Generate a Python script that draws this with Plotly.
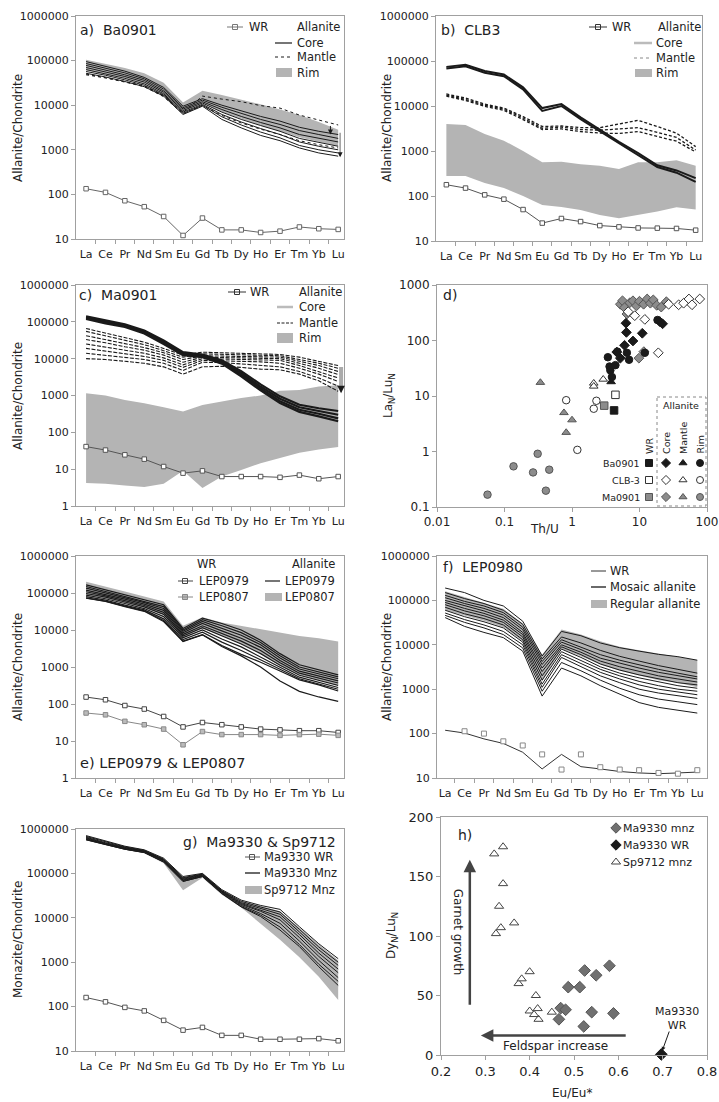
import math
import plotly.graph_objects as go

W, H = 719, 1102
FONT = "DejaVu Sans"
INK = "#1a1a1a"
FRAME = "#a0a0a0"
BAND = "#b4b4b4"

REE = ["La", "Ce", "Pr", "Nd", "Sm", "Eu", "Gd", "Tb", "Dy", "Ho", "Er", "Tm", "Yb", "Lu"]
IDX = list(range(len(REE)))

# ---------------- a) Ba0901 ----------------
a_wr = [134, 111, 72, 53, 32, 12, 29.5, 16, 16, 14, 15, 18.6, 17, 16.4]
a_core = [
    [95000, 75000, 58000, 42000, 25000, 9500, 14000, 10000, 7500, 5600, 4400, 3200, 2600, 2200],
    [86000, 68000, 53000, 39000, 23000, 8800, 13000, 9000, 6500, 4800, 3700, 2700, 2200, 1800],
    [78000, 62000, 48000, 36000, 21000, 8200, 12000, 8000, 5600, 4100, 3100, 2200, 1800, 1500],
    [70000, 56000, 44000, 33000, 19500, 7600, 11200, 7000, 4800, 3500, 2600, 1800, 1450, 1200],
    [63000, 51000, 40000, 30000, 18000, 7000, 10500, 6200, 4200, 3000, 2200, 1500, 1200, 1000],
    [57000, 47000, 37000, 28000, 17000, 6600, 10000, 5500, 3600, 2500, 1850, 1250, 1000, 850],
    [52000, 43000, 34000, 26000, 16000, 6200, 9500, 4800, 3100, 2100, 1600, 1100, 850, 720],
]
a_mantle = [
    [50000, 42000, 34000, 27000, 16500, 6800, 16000, 13700, 12000, 9800, 8600, 6000, 4700, 3600],
    [48000, 41000, 33000, 26000, 15500, 6400, 9800, 5900, 4000, 2900, 2200, 1600, 1300, 1100],
]
a_rim_hi = [105000, 85000, 68000, 52000, 32000, 11500, 21000, 17000, 13500, 10500, 8000, 6000, 4200, 2800]
a_rim_lo = [60000, 50000, 40000, 30000, 18000, 7000, 11000, 7000, 5000, 3500, 2600, 1900, 1500, 1200]

# ---------------- b) CLB3 ----------------
b_wr = [178, 150, 106, 85, 50, 25, 31.6, 27, 22, 20.6, 19.5, 19.3, 19, 17.4]
b_core = [
    [74000, 82000, 60000, 50000, 26000, 9000, 11000, 5600, 3000, 1600, 900, 480, 370, 250],
    [68000, 76000, 55000, 46000, 23500, 7800, 10000, 5100, 2750, 1480, 830, 440, 330, 205],
]
b_mantle = [
    [18500, 15000, 11000, 9000, 5800, 3500, 3600, 3300, 3300, 4000, 4800, 3500, 2500, 1250],
    [17500, 14000, 10400, 8500, 5400, 3200, 3400, 3000, 2900, 3100, 3300, 2600, 2000, 1050],
    [16500, 13300, 9800, 8000, 5000, 3000, 3100, 2700, 2500, 2450, 2700, 2100, 1650, 950],
]
b_rim_hi = [4000, 3800, 2400, 1700, 1000, 560, 580, 510, 470, 400, 560, 560, 620, 470]
b_rim_lo = [280, 280, 195, 150, 100, 63, 57, 49, 38, 32, 38, 45, 56, 50]

# ---------------- c) Ma0901 ----------------
c_wr = [41, 33, 24.5, 18.7, 11.8, 7.8, 9, 6.3, 6.3, 6.3, 6, 6.9, 5.5, 6.3]
c_core = [
    [140000, 108000, 86000, 58000, 31000, 15000, 13000, 9000, 4600, 2000, 950, 560, 450, 380],
    [132000, 102000, 81000, 55000, 29000, 14000, 12200, 8400, 4100, 1750, 820, 480, 380, 300],
    [126000, 96000, 77000, 51000, 27000, 13200, 11600, 7800, 3700, 1550, 700, 410, 320, 240],
    [120000, 91000, 73000, 48000, 25000, 12500, 11000, 7300, 3300, 1380, 620, 360, 270, 200],
]
c_mantle = [
    [66000, 50000, 38000, 28000, 19000, 12500, 15000, 14500, 14000, 13500, 13000, 11000, 8500, 6500],
    [55000, 42000, 32000, 24000, 16500, 11000, 13500, 13000, 12800, 12500, 12000, 9500, 7500, 5500],
    [42000, 33000, 26000, 20000, 14500, 9500, 12000, 11800, 11500, 11500, 11000, 8500, 6500, 4500],
    [33000, 27000, 21000, 17000, 12500, 8000, 11000, 10800, 10500, 10500, 10000, 7500, 5500, 3700],
    [25000, 21000, 17000, 14000, 10500, 6800, 10000, 9800, 9500, 9500, 9000, 6500, 4500, 3000],
    [19000, 16000, 13500, 11500, 9000, 5800, 9000, 8800, 8500, 8200, 7500, 5500, 3800, 2400],
    [14000, 12500, 11000, 9500, 7500, 4800, 8000, 7800, 7200, 6500, 6000, 4500, 3000, 1800],
    [10000, 9500, 8500, 7500, 6000, 3800, 6000, 6200, 5800, 5200, 5000, 3800, 2500, 1300],
]
c_rim_hi = [1150, 1000, 760, 620, 480, 370, 550, 700, 850, 1000, 1350, 1400, 1750, 1900]
c_rim_lo = [4.2, 4.0, 3.6, 3.3, 4.0, 9.0, 3.1, 6.3, 9.5, 14.5, 20, 28, 34, 40]

# ---------------- d) Th/U vs LaN/LuN ----------------
d_ba_wr_x, d_ba_wr_y = [4.2], [5.5]
d_clb_wr_x, d_clb_wr_y = [4.4], [10.5]
d_ma_wr_x, d_ma_wr_y = [3.0], [6.7]
d_ba_core_x = [6.3, 6.4, 8.0, 11.0, 20.0, 22.0, 6.0, 4.6, 5.2]
d_ba_core_y = [205, 140, 98, 135, 218, 200, 82, 62, 48]
d_ba_mantle_x, d_ba_mantle_y = [3.8], [18]
d_ba_rim_x = [3.4, 3.6, 3.7, 4.4, 4.7, 7.0, 6.5, 3.9, 12.0, 18.5]
d_ba_rim_y = [50, 34, 29, 36, 63, 45, 60, 22, 60, 234]
d_clb_core_x = [6.8, 8.5, 12.0, 27, 38, 45, 54, 60, 78, 19]
d_clb_core_y = [330, 280, 240, 450, 440, 470, 560, 440, 560, 60]
d_clb_mantle_x, d_clb_mantle_y = [2.1, 2.1, 2.9], [17, 15, 20]
d_clb_rim_x, d_clb_rim_y = [0.82, 1.2, 2.1, 2.3], [8.4, 1.07, 5.9, 8.2]
d_ma_core_x = [5.2, 5.6, 6.0, 6.5, 7.2, 8.0, 9.0, 10.0, 11.5, 13.0, 14.5, 16.0, 18.0, 21.0, 25.0, 9.8, 11.6]
d_ma_core_y = [450, 520, 390, 300, 480, 520, 420, 510, 450, 560, 470, 540, 430, 400, 500, 48, 63]
d_ma_mantle_x, d_ma_mantle_y = [0.34, 0.76, 1.0, 0.82], [17.5, 5.0, 3.7, 2.2]
d_ma_rim_x = [0.056, 0.136, 0.265, 0.31, 0.46, 0.41]
d_ma_rim_y = [0.167, 0.54, 0.42, 0.91, 0.47, 0.197]

# ---------------- e) LEP0979 & LEP0807 ----------------
e_wr_979 = [154, 130, 91, 73, 46, 24, 31.6, 27.6, 24, 21, 20, 19, 19, 17]
e_wr_807 = [57, 51, 34, 27.5, 21, 7.9, 18, 14.9, 14.9, 14.9, 14.2, 14.9, 15.3, 14.2]
e_aln_979 = [
    [165000, 120000, 89000, 65000, 48000, 11000, 21000, 15000, 10000, 5300, 2300, 1150, 840, 610],
    [150000, 110000, 82000, 60000, 43000, 10000, 19000, 13000, 8500, 4600, 2000, 1000, 740, 540],
    [135000, 100000, 75000, 55000, 38000, 9200, 17000, 11000, 7200, 4000, 1750, 880, 650, 480],
    [120000, 92000, 68000, 50000, 34000, 8400, 15000, 9500, 6000, 3400, 1500, 770, 570, 420],
    [108000, 84000, 62000, 46000, 30000, 7600, 13000, 8000, 5000, 2800, 1300, 680, 500, 370],
    [97000, 77000, 57000, 42000, 26500, 6900, 11500, 6800, 4200, 2300, 1120, 600, 440, 320],
    [88000, 70000, 52000, 38000, 23000, 6200, 10000, 5700, 3500, 1900, 980, 530, 390, 280],
    [80000, 64000, 47000, 35000, 20000, 5500, 8700, 4700, 2800, 1600, 870, 480, 350, 250],
    [74000, 60000, 44000, 33000, 18000, 5000, 7500, 3800, 2200, 1350, 780, 450, 330, 225],
    [72000, 59000, 43000, 32000, 17000, 4900, 7400, 3600, 2000, 1000, 420, 220, 155, 118],
]
e_807_hi = [200000, 150000, 110000, 80000, 59000, 13000, 22000, 16000, 13000, 10500, 8500, 6900, 6000, 4900]
e_807_lo = [90000, 72000, 54000, 40000, 26000, 6500, 11000, 7000, 4200, 2300, 1100, 600, 450, 330]

# ---------------- f) LEP0980 ----------------
f_wr = [119, 103, 76, 60, 38, 16, 34, 18, 16, 14, 13, 12.5, 13, 13.6]
f_wr_sq = [113, 100, 67, 54, 34, 15.5, 34, 17.5, 15.5, 15, 13, 12.5, 15, 13.6]
f_mosaic = [
    [190000, 150000, 100000, 75000, 34000, 5600, 20000, 16000, 11000, 8600, 7200, 6100, 5400, 4500],
    [150000, 110000, 85000, 60000, 29000, 4800, 15000, 11000, 7500, 5500, 4300, 3400, 2800, 2300],
    [130000, 95000, 75000, 53000, 25000, 4200, 13000, 9000, 6000, 4500, 3500, 2800, 2300, 1900],
    [115000, 85000, 66000, 47000, 22000, 3600, 11500, 7800, 5000, 3800, 3000, 2400, 2000, 1700],
    [100000, 75000, 58000, 41000, 19000, 3000, 10000, 6800, 4300, 3200, 2500, 2000, 1700, 1450],
    [90000, 66000, 51000, 36000, 17000, 2500, 9000, 6000, 3700, 2700, 2100, 1700, 1400, 1250],
    [80000, 58000, 45000, 32000, 15000, 2000, 8000, 5200, 3200, 2300, 1800, 1450, 1200, 1050],
    [70000, 50000, 39000, 28000, 13000, 1600, 7000, 4500, 2800, 2000, 1500, 1200, 1000, 900],
    [60000, 43000, 33000, 24000, 11500, 1300, 6000, 3800, 2400, 1700, 1250, 1000, 850, 750],
    [52000, 37000, 28000, 20000, 10000, 1100, 5200, 3200, 2000, 1400, 1000, 820, 700, 620],
    [46000, 32000, 24000, 17000, 8500, 900, 4000, 2600, 1600, 1050, 750, 600, 520, 450],
    [41000, 26000, 19000, 14500, 7200, 700, 3000, 2000, 1200, 770, 500, 390, 340, 290],
]
f_reg_hi = [160000, 120000, 90000, 65000, 30000, 6000, 22000, 17000, 12000, 9000, 7500, 6300, 5500, 4500]
f_reg_lo = [60000, 45000, 35000, 25000, 12000, 1500, 8000, 5500, 3600, 2600, 2000, 1600, 1400, 1100]

# ---------------- g) Ma9330 & Sp9712 ----------------
g_wr = [160, 128, 96, 80, 49, 29.5, 34, 22.5, 22.5, 18.4, 18.4, 18.4, 19, 17]
g_mnz = [
    [710000, 530000, 410000, 340000, 220000, 85000, 100000, 43000, 25000, 19000, 15500, 6300, 2600, 1200],
    [680000, 510000, 395000, 330000, 210000, 80000, 97000, 41000, 23500, 17500, 13500, 5500, 2200, 1000],
    [650000, 490000, 385000, 320000, 205000, 77000, 95000, 40000, 22000, 16000, 12000, 4800, 1900, 850],
    [630000, 475000, 375000, 315000, 200000, 74000, 92000, 39000, 21000, 15000, 10500, 4200, 1600, 700],
    [610000, 460000, 365000, 310000, 195000, 71000, 90000, 38000, 20000, 14000, 9000, 3600, 1350, 580],
    [590000, 450000, 355000, 300000, 190000, 69000, 88000, 37000, 19000, 12500, 7500, 3000, 1100, 450],
    [575000, 440000, 350000, 295000, 182000, 66000, 85000, 35500, 18000, 11500, 6200, 2500, 900, 370],
    [570000, 440000, 350000, 295000, 180000, 66000, 85000, 35000, 17500, 10700, 5300, 2250, 790, 300],
]
g_sp_hi = [700000, 520000, 410000, 340000, 215000, 82000, 98000, 42000, 24000, 18000, 14000, 6000, 2500, 1100]
g_sp_lo = [560000, 430000, 340000, 285000, 170000, 42000, 80000, 33000, 17000, 7500, 3200, 1300, 470, 140]

# ---------------- h) Eu/Eu* vs DyN/LuN ----------------
h_sp_x = [0.32, 0.34, 0.34, 0.331, 0.324, 0.335, 0.365, 0.40, 0.375, 0.382, 0.414, 0.40, 0.418, 0.42, 0.45, 0.41]
h_sp_y = [169, 175, 144, 125, 102, 107, 111, 70, 60, 64, 50, 37, 39, 30, 36, 34]
h_ma_x = [0.47, 0.481, 0.487, 0.466, 0.513, 0.524, 0.55, 0.58, 0.54, 0.589, 0.522]
h_ma_y = [39.4, 38, 57, 30, 57, 71, 67, 75, 36, 35, 24]
h_wr_x, h_wr_y = [0.697], [0.5]

# ====================================================================
PANELS = {1: (76, 344, 16, 239), 2: (436, 702, 16, 241), 3: (76, 344, 285, 506),
          4: (437, 707, 285, 507), 5: (76, 344, 556, 778), 6: (437, 707, 556, 778),
          7: (76, 344, 829, 1051), 8: (441, 707, 817, 1055)}

fig = go.Figure()
layout = dict(width=W, height=H, margin=dict(l=0, r=0, t=0, b=0, autoexpand=False), paper_bgcolor="white",
              plot_bgcolor="rgba(0,0,0,0)", showlegend=False,
              font=dict(family=FONT, color="#222"))
ann, shp = [], []


def axkey(n, a):
    return f"{a}axis" if n == 1 else f"{a}axis{n}"


def ref(n, a):
    return a if n == 1 else f"{a}{n}"


def base_axis(n, a, **kw):
    x0, x1, y0, y1 = PANELS[n]
    dom = [x0 / W, x1 / W] if a == "x" else [1 - y1 / H, 1 - y0 / H]
    d = dict(domain=dom, anchor=ref(n, "y" if a == "x" else "x"), showline=True, mirror=True,
             linecolor=FRAME, linewidth=1, showgrid=False, zeroline=False, ticks="outside",
             ticklen=4, tickcolor=FRAME, fixedrange=True, automargin=False, tickangle=0,
             tickfont=dict(size=11, color="#222", family=FONT))
    d.update(kw)
    layout[axkey(n, a)] = d


def ree_axes(n, xr, ymin):
    base_axis(n, "x", range=xr, tickmode="array", tickvals=IDX, ticktext=REE, ticklen=5,
              tickcolor="rgba(0,0,0,0)",
              minor=dict(tickmode="array", tickvals=[i + 0.5 for i in IDX[:-1]], ticks="outside",
                         ticklen=4, tickcolor=FRAME, showgrid=False))
    vals = [10 ** k for k in range(ymin, 7)]
    base_axis(n, "y", type="log", range=[ymin, 6], tickmode="array", tickvals=vals,
              ticktext=[str(v) for v in vals])


def lines(n, rows, color=INK, width=1, dash="solid"):
    for r in rows:
        fig.add_trace(go.Scatter(x=IDX, y=r, mode="lines", line=dict(color=color, width=width, dash=dash),
                                 xaxis=ref(n, "x"), yaxis=ref(n, "y"), hoverinfo="skip"))


def band(n, lo, hi, color=BAND):
    fig.add_trace(go.Scatter(x=IDX + IDX[::-1], y=hi + lo[::-1], mode="lines", fill="toself",
                             fillcolor=color, line=dict(width=0, color=color),
                             xaxis=ref(n, "x"), yaxis=ref(n, "y"), hoverinfo="skip"))


def wr(n, vals, color="#555", mfill="white", xs=None, mode="lines+markers", clip=True, size=4.5):
    fig.add_trace(go.Scatter(x=xs if xs is not None else IDX, y=vals, mode=mode,
                             line=dict(color=color, width=1),
                             marker=dict(symbol="square", size=size, color=mfill, line=dict(color=color, width=1)),
                             cliponaxis=clip, xaxis=ref(n, "x"), yaxis=ref(n, "y"), hoverinfo="skip"))


def pts(n, xs, ys, symbol, fill, edge, size=7.5, clip=True):
    fig.add_trace(go.Scatter(x=xs, y=ys, mode="markers", cliponaxis=clip,
                             marker=dict(symbol=symbol, size=size, color=fill, line=dict(color=edge, width=1)),
                             xaxis=ref(n, "x"), yaxis=ref(n, "y"), hoverinfo="skip"))


# overlay pixel-space axis for legends/labels
layout["xaxis9"] = dict(domain=[0, 1], range=[0, W], visible=False, anchor="y9", fixedrange=True)
layout["yaxis9"] = dict(domain=[0, 1], range=[H, 0], visible=False, anchor="x9", fixedrange=True)


def T(x, y, s, size=11.5, xa="left", ya="middle", ang=0, color="#222"):
    ann.append(dict(x=x, y=y, xref="x9", yref="y9", text=s, showarrow=False, xanchor=xa, yanchor=ya,
                    textangle=ang, font=dict(size=size, color=color, family=FONT)))


def SEG(x0, x1, y, color=INK, w=1, dash="solid"):
    shp.append(dict(type="line", xref="x9", yref="y9", x0=x0, x1=x1, y0=y, y1=y,
                    line=dict(color=color, width=w, dash=dash)))


def BOX(x0, y0, x1, y1, fill=BAND, line=None, dash="solid", layer="above"):
    shp.append(dict(type="rect", xref="x9", yref="y9", x0=x0, x1=x1, y0=y0, y1=y1, fillcolor=fill,
                    layer=layer, line=dict(width=1 if line else 0, color=line or fill, dash=dash)))


def MK(x, y, symbol, fill, edge, size=7.5):
    fig.add_trace(go.Scatter(x=[x], y=[y], mode="markers", xaxis="x9", yaxis="y9", hoverinfo="skip",
                             marker=dict(symbol=symbol, size=size, color=fill, line=dict(color=edge, width=1))))


def ARROW(n, x, y, ax, ay, color=INK, width=1, head=2, size=1):
    ann.append(dict(x=x, y=y, ax=ax, ay=ay, xref=ref(n, "x"), yref=ref(n, "y"), axref=ref(n, "x"),
                    ayref=ref(n, "y"), showarrow=True, arrowhead=head, arrowsize=size, arrowwidth=width,
                    arrowcolor=color, text=""))


def LG(v):
    return math.log10(v)


# ---------------- panel a ----------------
ree_axes(1, [-0.52, 13.3], 1)
band(1, a_rim_lo, a_rim_hi)
wr(1, a_wr, color="#666")
lines(1, a_core, width=1)
lines(1, a_mantle, width=1, dash="dot")
ARROW(1, 12.6, LG(2200), 12.6, LG(3700))
ARROW(1, 13.1, LG(820), 13.1, LG(2600), color="#999", width=1.5, head=0)
ARROW(1, 13.1, LG(680), 13.1, LG(900))
T(78, 30, "a)  Ba0901", 14)
SEG(227, 243, 27, "#777"); MK(235, 27, "square", "white", "#777", 5)
T(247, 27, "WR"); T(295, 27, "Allanite")
SEG(275, 292, 43, INK, 1.2); T(295, 43, "Core")
SEG(275, 292, 57, INK, 1, "dot"); T(295, 57, "Mantle")
BOX(276, 68, 292, 77); T(295, 73, "Rim")
T(18, 128, "Allanite/Chondrite", 12, "center", ang=-90)

# ---------------- panel b ----------------
ree_axes(2, [-0.54, 13.33], 1)
band(2, b_rim_lo, b_rim_hi)
wr(2, b_wr, color="#555")
lines(2, b_mantle, width=1.3, dash="3px,2px")
lines(2, b_core, width=2)
T(439, 30, "b)  CLB3", 14)
SEG(589, 607, 27, "#333"); MK(598, 27, "square", "white", "#333", 5)
T(610, 27, "WR"); T(656, 27, "Allanite")
SEG(634, 652, 43, "#bbb", 2.5); T(654, 43, "Core")
SEG(634, 652, 58, "#888", 1, "dot"); T(654, 58, "Mantle")
BOX(635, 69, 652, 77); T(654, 73, "Rim")
T(387, 128, "Allanite/Chondrite", 12, "center", ang=-90)

# ---------------- panel c ----------------
ree_axes(3, [-0.52, 13.3], 0)
band(3, c_rim_lo, c_rim_hi)
wr(3, c_wr, color="#555")
lines(3, c_mantle, width=1.1, dash="4px,1.5px")
lines(3, c_core, width=2.2)
ARROW(3, 13.15, LG(1600), 13.15, LG(6500), color="#aaa", width=4, head=0)
ARROW(3, 13.15, LG(1150), 13.15, LG(1700), width=1.5)
T(77, 295, "c)  Ma0901", 14)
SEG(228, 246, 292, "#333"); MK(237, 292, "square", "white", "#333", 5)
T(248, 292, "WR"); T(297, 292, "Allanite")
SEG(277, 293, 307, "#bbb", 2.5); T(297, 307, "Core")
SEG(277, 293, 323, INK, 1, "3px,1.5px"); T(297, 323, "Mantle")
BOX(277, 333, 293, 343); T(297, 338, "Rim")
T(18, 396, "Allanite/Chondrite", 12, "center", ang=-90)

# ---------------- panel d ----------------
base_axis(4, "x", type="log", range=[-2, 2], tickmode="array", tickvals=[0.01, 0.1, 1, 10, 100],
          ticktext=["0.01", "0.1", "1", "10", "100"], tickfont=dict(size=12, color="#222", family=FONT))
base_axis(4, "y", type="log", range=[-1, 3], tickmode="array", tickvals=[0.1, 1, 10, 100, 1000],
          ticktext=["0.1", "1", "10", "100", "1000"], tickfont=dict(size=12, color="#222", family=FONT))
GRAYF, GRAYE = "#8c8c8c", "#555"
BOX(657, 397, 706, 506, fill="rgba(0,0,0,0)", line="#888", dash="dot", layer="below")
pts(4, d_ma_core_x, d_ma_core_y, "diamond", GRAYF, GRAYE)
pts(4, d_clb_core_x, d_clb_core_y, "diamond", "white", "#333")
pts(4, d_ba_core_x, d_ba_core_y, "diamond", INK, INK)
pts(4, d_ba_rim_x, d_ba_rim_y, "circle", INK, INK)
pts(4, d_clb_rim_x, d_clb_rim_y, "circle", "white", "#333")
pts(4, d_ma_rim_x, d_ma_rim_y, "circle", GRAYF, GRAYE)
pts(4, d_ma_mantle_x, d_ma_mantle_y, "triangle-up", GRAYF, GRAYE)
pts(4, d_clb_mantle_x, d_clb_mantle_y, "triangle-up", "white", "#333")
pts(4, d_ba_mantle_x, d_ba_mantle_y, "triangle-up", INK, INK)
pts(4, d_ba_wr_x, d_ba_wr_y, "square", INK, INK)
pts(4, d_clb_wr_x, d_clb_wr_y, "square", "white", "#333")
pts(4, d_ma_wr_x, d_ma_wr_y, "square", GRAYF, GRAYE)
T(441, 295, "d)", 14)
T(389, 396, "La<sub>N</sub>/Lu<sub>N</sub>", 12, "center", ang=-90)
T(544, 529, "Th/U", 12, "center")
T(681, 405, "Allanite", 9.5, "center")
cols = [649, 666, 683, 700]
for cx, lab in zip(cols, ["WR", "Core", "Mantle", "Rim"]):
    T(cx, 456, lab, 9.5, "center", "bottom", ang=-90)
rows = [(463, "Ba0901", INK, INK), (480, "CLB-3", "white", "#333"), (497, "Ma0901", GRAYF, GRAYE)]
for ry, lab, fc, ec in rows:
    T(642, ry, lab, 9.5, "right")
    for cx, sym in zip(cols, ["square", "diamond", "triangle-up", "circle"]):
        MK(cx, ry, sym, fc, ec, 7)

# ---------------- panel e ----------------
ree_axes(5, [-0.52, 13.3], 0)
band(5, e_807_lo, e_807_hi)
wr(5, e_wr_979, color="#444")
wr(5, e_wr_807, color="#888", mfill="#bbb")
lines(5, e_aln_979, width=1.2)
T(206, 564, "WR", 11.5, "center"); T(313, 564, "Allanite", 11.5, "center")
SEG(178, 193, 581, "#444"); MK(185, 581, "square", "white", "#444", 5)
T(197, 581, "LEP0979")
SEG(178, 193, 597, "#888"); MK(185, 597, "square", "#bbb", "#888", 5)
T(197, 597, "LEP0807")
SEG(265, 280, 581, INK, 1.2); T(283, 581, "LEP0979")
BOX(265, 593, 282, 601); T(283, 597, "LEP0807")
T(78, 763, "e) LEP0979 & LEP0807", 14.5)
T(18, 667, "Allanite/Chondrite", 12, "center", ang=-90)

# ---------------- panel f ----------------
ree_axes(6, [-0.42, 13.5], 1)
band(6, f_reg_lo, f_reg_hi)
lines(6, f_mosaic, width=1)
fig.add_trace(go.Scatter(x=IDX, y=f_wr, mode="lines", line=dict(color="#333", width=1),
                         xaxis="x6", yaxis="y6", hoverinfo="skip"))
wr(6, f_wr_sq, color="#888", xs=[i + 1 for i in IDX], mode="markers", clip=False, size=5)
T(441, 567, "f)  LEP0980", 14)
SEG(591, 606, 571, "#333", 1); T(608, 571, "WR")
SEG(591, 606, 587, INK, 1.3); T(608, 587, "Mosaic allanite")
BOX(591, 600, 607, 608); T(608, 604, "Regular allanite")
T(387, 667, "Allanite/Chondrite", 12, "center", ang=-90)

# ---------------- panel g ----------------
ree_axes(7, [-0.52, 13.3], 1)
band(7, g_sp_lo, g_sp_hi)
wr(7, g_wr, color="#555")
lines(7, g_mnz, width=1)
T(338, 842, "g)  Ma9330 & Sp9712", 14, "right")
SEG(245, 260, 857, "#555"); MK(252, 857, "square", "white", "#555", 5)
T(262, 857, "Ma9330 WR")
SEG(245, 260, 873, INK, 1.3); T(262, 873, "Ma9330 Mnz")
BOX(245, 886, 262, 894); T(262, 890, "Sp9712 Mnz")
T(18, 940, "Monazite/Chondrite", 12, "center", ang=-90)

# ---------------- panel h ----------------
hx = [0.2, 0.3, 0.4, 0.5, 0.6, 0.7, 0.8]
hy = [0, 50, 100, 150, 200]
base_axis(8, "x", range=[0.2, 0.8], tickmode="array", tickvals=hx, ticktext=[f"{v:.1f}" for v in hx],
          tickfont=dict(size=13, color="#222", family=FONT))
base_axis(8, "y", range=[0, 200], tickmode="array", tickvals=hy, ticktext=[str(v) for v in hy],
          tickfont=dict(size=13, color="#222", family=FONT))
ARROW(8, 0.265, 164, 0.265, 41, color="#444", width=2.5)
ARROW(8, 0.29, 16.4, 0.62, 16.4, color="#444", width=2.5)
ARROW(8, 0.699, 3.5, 0.716, 21, width=1, size=0.8)
pts(8, h_sp_x, h_sp_y, "triangle-up", "white", "#444", 8)
pts(8, h_ma_x, h_ma_y, "diamond", "#707070", "#555", 9)
pts(8, h_wr_x, h_wr_y, "diamond", INK, INK, 9, clip=False)
ann.append(dict(x=0.2375, y=103, xref="x8", yref="y8", text="Garnet growth", showarrow=False,
                textangle=90, font=dict(size=12, color="#222", family=FONT)))
ann.append(dict(x=0.459, y=7.5, xref="x8", yref="y8", text="Feldspar increase", showarrow=False,
                font=dict(size=12, color="#222", family=FONT)))
ann.append(dict(x=0.733, y=31, xref="x8", yref="y8", text="Ma9330<br>WR", showarrow=False,
                font=dict(size=11, color="#222", family=FONT)))
T(456, 835, "h)", 14)
MK(616, 828, "diamond", "#707070", "#555", 8); T(621, 828, "Ma9330 mnz", 11)
MK(616, 845, "diamond", INK, INK, 8); T(621, 845, "Ma9330 WR", 11)
MK(616, 862, "triangle-up", "white", "#444", 8); T(621, 862, "Sp9712 mnz", 11)
T(392, 936, "Dy<sub>N</sub>/Lu<sub>N</sub>", 12, "center", ang=-90)
T(572, 1093, "Eu/Eu*", 12, "center")

layout["annotations"] = ann
layout["shapes"] = shp
fig.update_layout(**layout)
fig.write_html("out.html", config={"displayModeBar": False, "staticPlot": True},
               post_script="document.body.style.margin='0px';document.body.style.overflow='hidden';")
